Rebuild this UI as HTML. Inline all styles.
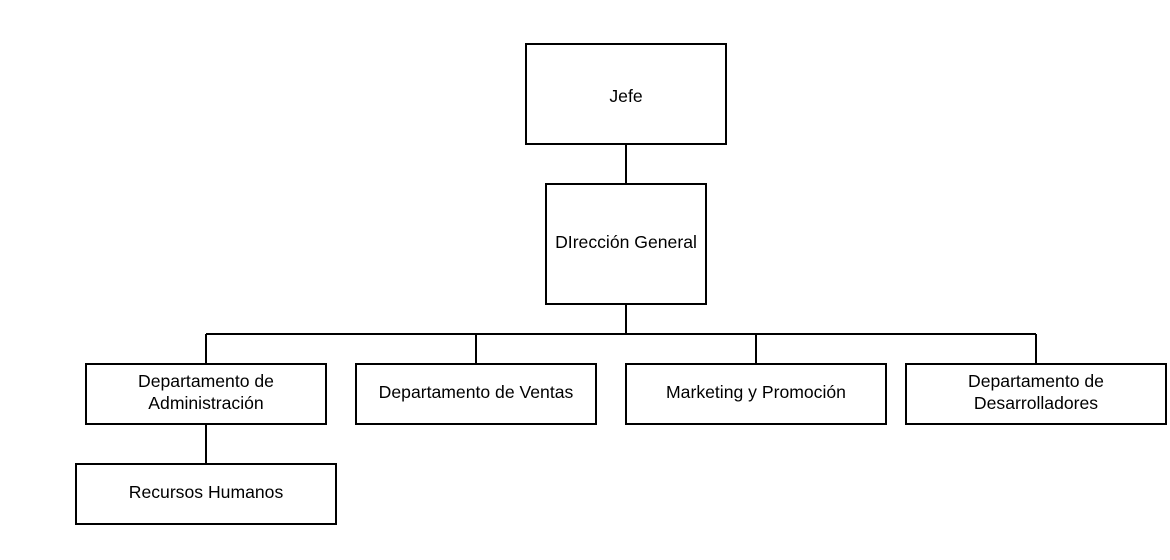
<!DOCTYPE html>
<html><head><meta charset="utf-8"><style>
html,body{margin:0;padding:0;background:#fff;}
svg{display:block;}
text{font-family:"Liberation Sans",Arial,sans-serif;font-size:17.6px;fill:#000;}
</style></head><body>
<svg width="1170" height="560" viewBox="0 0 1170 560" xmlns="http://www.w3.org/2000/svg">
<g fill="none" stroke="#000" stroke-width="2">
<line x1="626" y1="144" x2="626" y2="184"/>
<line x1="626" y1="304" x2="626" y2="334"/>
<line x1="206" y1="334" x2="1036" y2="334"/>
<line x1="206" y1="334" x2="206" y2="364"/>
<line x1="476" y1="334" x2="476" y2="364"/>
<line x1="756" y1="334" x2="756" y2="364"/>
<line x1="1036" y1="334" x2="1036" y2="364"/>
<line x1="206" y1="424" x2="206" y2="464"/>
<rect x="526" y="44" width="200" height="100"/>
<rect x="546" y="184" width="160" height="120"/>
<rect x="86" y="364" width="240" height="60"/>
<rect x="356" y="364" width="240" height="60"/>
<rect x="626" y="364" width="260" height="60"/>
<rect x="906" y="364" width="260" height="60"/>
<rect x="76" y="464" width="260" height="60"/>
</g>
<g text-anchor="middle">
<text x="626" y="102">Jefe</text>
<text x="626" y="248">DIrección General</text>
<text x="206" y="387">Departamento de</text>
<text x="206" y="409">Administración</text>
<text x="476" y="398">Departamento de Ventas</text>
<text x="756" y="398">Marketing y Promoción</text>
<text x="1036" y="387">Departamento de</text>
<text x="1036" y="409">Desarrolladores</text>
<text x="206" y="498">Recursos Humanos</text>
</g>
</svg>
</body></html>
